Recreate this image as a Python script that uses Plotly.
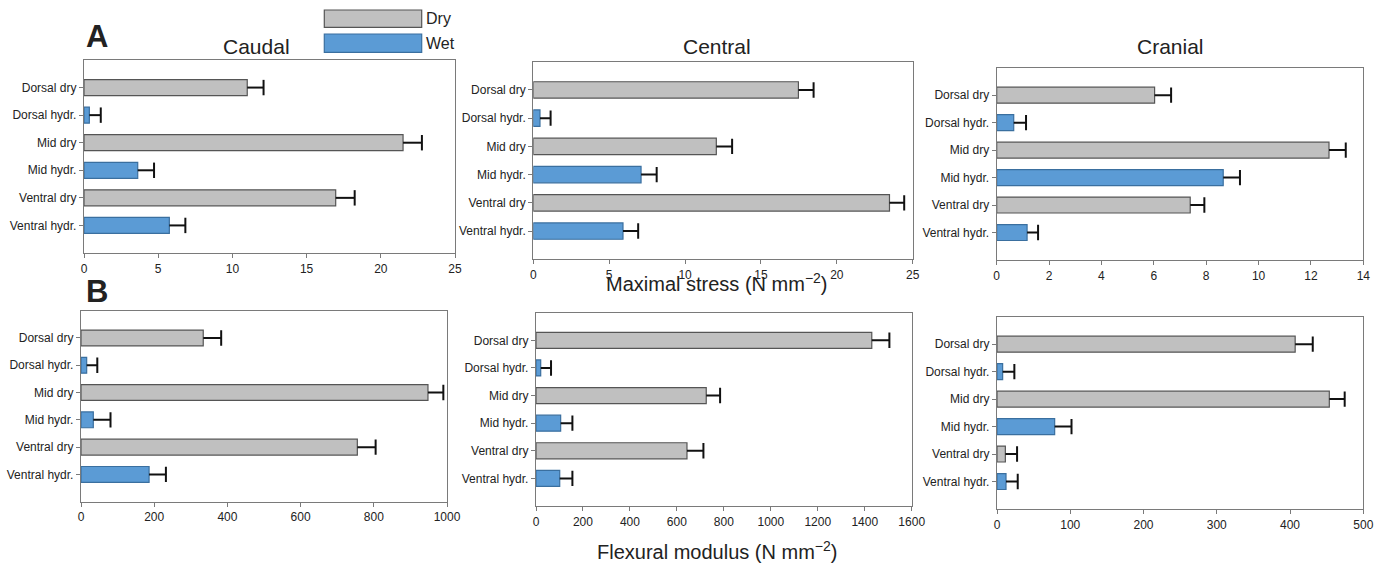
import plotly.graph_objects as go

categories = ["Dorsal dry", "Dorsal hydr.", "Mid dry", "Mid hydr.", "Ventral dry", "Ventral hydr."]
is_wet = [False, True, False, True, False, True]

stress_caudal = [11.0, 0.36, 21.5, 3.62, 16.96, 5.75]
stress_caudal_err = [1.1, 0.77, 1.27, 1.1, 1.28, 1.08]
stress_central = [17.47, 0.44, 12.06, 7.1, 23.47, 5.91]
stress_central_err = [1.0, 0.7, 1.04, 1.03, 0.97, 1.0]
stress_cranial = [6.03, 0.65, 12.69, 8.65, 7.39, 1.16]
stress_cranial_err = [0.63, 0.47, 0.64, 0.64, 0.54, 0.42]

modulus_caudal = [334, 15.5, 948, 33.6, 755, 186]
modulus_caudal_err = [49, 29, 42, 47, 50, 46]
modulus_central = [1430, 20, 725, 105, 643, 101]
modulus_central_err = [75, 44, 59, 50, 70, 54]
modulus_cranial = [407, 7.7, 453.6, 78.7, 11.4, 12.3]
modulus_cranial_err = [24, 16, 21, 23, 16, 16]

region_titles = ["Caudal", "Central", "Cranial"]
legend_labels = ["Dry", "Wet"]

DRY_FILL, DRY_LINE = "#c0c0c0", "#555555"
WET_FILL, WET_LINE = "#5b9bd5", "#3a6f9f"
AXIS_COLOR = "#7a7a7a"
ERR_COLOR = "#111111"
TEXT = "#222222"
FONT = "Liberation Sans, Arial, sans-serif"

W, H = 1385, 565

def px_x(x):
    return x / W

def px_y(y):
    return 1 - y / H

# panel boxes in pixels: (left, right, top, bottom)
panels = [
    (stress_caudal, stress_caudal_err, (84, 455, 60, 253), [0, 25], 5),
    (stress_central, stress_central_err, (533.3, 912.7, 61.7, 259.3), [0, 25], 5),
    (stress_cranial, stress_cranial_err, (996.7, 1363.3, 67.7, 260), [0, 14], 2),
    (modulus_caudal, modulus_caudal_err, (81, 447, 310.7, 501.7), [0, 1000], 200),
    (modulus_central, modulus_central_err, (536, 911.7, 312.7, 506), [0, 1600], 200),
    (modulus_cranial, modulus_cranial_err, (997, 1363.3, 316.7, 509), [0, 500], 100),
]

fig = go.Figure()
layout = {}
for i, (vals, errs, (l, r, t, b), xr, dt) in enumerate(panels, start=1):
    xa = "x" if i == 1 else f"x{i}"
    ya = "y" if i == 1 else f"y{i}"
    fig.add_trace(go.Bar(
        x=vals, y=categories, orientation="h",
        xaxis=xa, yaxis=ya, width=0.58,
        marker=dict(color=[WET_FILL if w else DRY_FILL for w in is_wet],
                    line=dict(color=[WET_LINE if w else DRY_LINE for w in is_wet], width=1.2)),
        showlegend=False, hoverinfo="x+y",
    ))
    # one-sided error bars: stem from bar end to bar end + error, cap at the end
    ex, ey = [], []
    for v, e, c in zip(vals, errs, categories):
        ex += [v, v + e, None]
        ey += [c, c, None]
    fig.add_trace(go.Scatter(
        x=ex, y=ey, mode="lines", xaxis=xa, yaxis=ya,
        line=dict(color=ERR_COLOR, width=2), showlegend=False, hoverinfo="skip",
    ))
    fig.add_trace(go.Scatter(
        x=[v + e for v, e in zip(vals, errs)], y=categories, mode="markers",
        xaxis=xa, yaxis=ya,
        marker=dict(symbol="line-ns", size=11, line=dict(color=ERR_COLOR, width=2)),
        showlegend=False, hoverinfo="skip",
    ))
    xkey = "xaxis" if i == 1 else f"xaxis{i}"
    ykey = "yaxis" if i == 1 else f"yaxis{i}"
    layout[xkey] = dict(
        domain=[px_x(l), px_x(r)], anchor=ya, range=xr, dtick=dt, tick0=0,
        showline=True, linecolor=AXIS_COLOR, linewidth=1.3, mirror=True, automargin=False,
        ticks="outside", ticklen=4, tickcolor=AXIS_COLOR, showgrid=False, zeroline=False,
        tickfont=dict(size=12, color=TEXT, family=FONT),
    )
    layout[ykey] = dict(
        domain=[px_y(b), px_y(t)], anchor=xa, type="category", automargin=False,
        categoryorder="array", categoryarray=categories, range=[6, -1],
        showline=True, linecolor=AXIS_COLOR, linewidth=1.3, mirror=True,
        ticks="outside", ticklen=4, tickcolor=AXIS_COLOR, showgrid=False, zeroline=False,
        tickfont=dict(size=12, color=TEXT, family=FONT),
    )

annotations = []
for name, cx in zip(region_titles, [256.7, 716.7, 1170.7]):
    annotations.append(dict(x=px_x(cx), y=px_y(46.7), xref="paper", yref="paper",
                            text=name, showarrow=False, xanchor="center", yanchor="middle",
                            font=dict(size=21, color=TEXT, family=FONT)))
annotations += [
    dict(x=px_x(97), y=px_y(36), xref="paper", yref="paper", text="<b>A</b>", showarrow=False,
         xanchor="center", yanchor="middle", font=dict(size=31, color=TEXT, family=FONT)),
    dict(x=px_x(97), y=px_y(291), xref="paper", yref="paper", text="<b>B</b>", showarrow=False,
         xanchor="center", yanchor="middle", font=dict(size=31, color=TEXT, family=FONT)),
    dict(x=px_x(716.7), y=px_y(282), xref="paper", yref="paper",
         text="Maximal stress (N mm<sup>−2</sup>)", showarrow=False,
         xanchor="center", yanchor="middle", font=dict(size=20, color=TEXT, family=FONT)),
    dict(x=px_x(716.7), y=px_y(550), xref="paper", yref="paper",
         text="Flexural modulus (N mm<sup>−2</sup>)", showarrow=False,
         xanchor="center", yanchor="middle", font=dict(size=20, color=TEXT, family=FONT)),
]

shapes = []
for lab, (y0, y1), fill, line in zip(legend_labels, [(10, 27.3), (34, 52.3)],
                                      [DRY_FILL, WET_FILL], [DRY_LINE, WET_LINE]):
    shapes.append(dict(type="rect", xref="paper", yref="paper",
                       x0=px_x(324.3), x1=px_x(421.7), y0=px_y(y1), y1=px_y(y0),
                       fillcolor=fill, line=dict(color=line, width=1.2)))
    annotations.append(dict(x=px_x(424), y=px_y((y0 + y1) / 2), xref="paper", yref="paper",
                            text=lab, showarrow=False, xanchor="left", yanchor="middle",
                            font=dict(size=16, color=TEXT, family=FONT)))

fig.update_layout(
    width=W, height=H, autosize=False, margin=dict(l=0, r=0, t=0, b=0, pad=0, autoexpand=False),
    paper_bgcolor="white", plot_bgcolor="white", showlegend=False,
    barmode="overlay", annotations=annotations, shapes=shapes,
    font=dict(family=FONT, color=TEXT),
    **layout,
)

fig.write_html(
    "out.html",
    config={"displayModeBar": False, "responsive": False},
    post_script="document.body.style.margin='0';document.body.style.overflow='hidden';",
)
